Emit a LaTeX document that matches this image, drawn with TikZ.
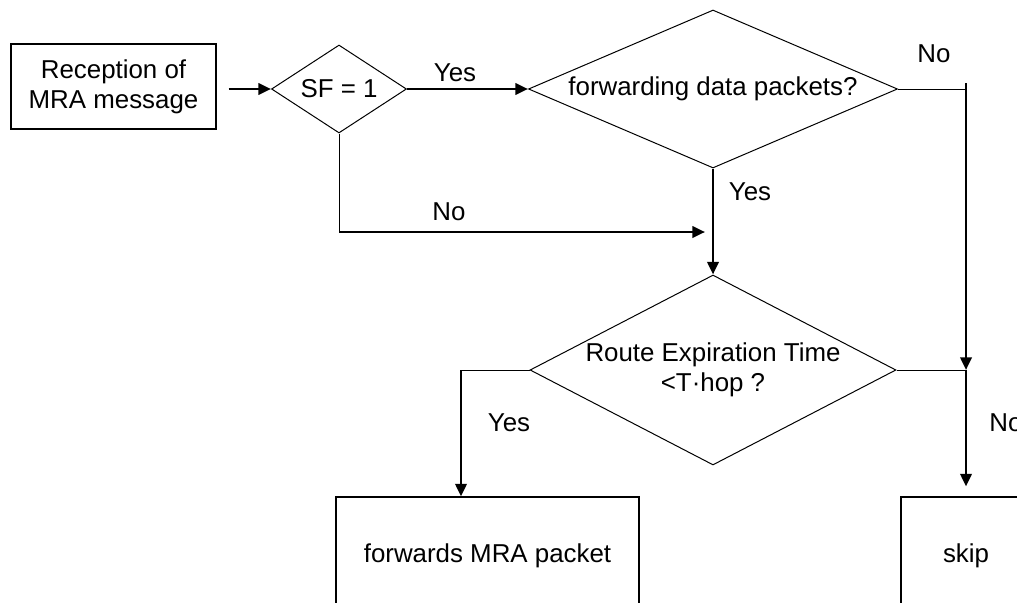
\documentclass[tikz,border=0pt]{standalone}
\usepackage{fontspec}
\setmainfont{Liberation Sans}
\usetikzlibrary{shapes.geometric, arrows.meta}

\begin{document}
\begin{tikzpicture}[
      x=0.75pt, y=-0.75pt, % one unit = one pixel of the sketch
      % The boxes and decisions of the chart:
      every node/.style={font=\fontsize{19.4}{22.5}\selectfont, inner sep=0pt},
      procbox/.style={draw, line width=0.8pt, align=center},
      decision/.style={draw, diamond, line width=0.75pt, align=center},
      answer/.style={draw=none, fill=none},
      thinedge/.style={draw, line width=0.75pt},
      flow/.style={draw, line width=2pt, -{Triangle[length=9.5pt, width=8.5pt]}},
  ]
  \useasboundingbox (0,0) rectangle (1017,603);
  \clip (0,0) rectangle (1017,603);

  %%%%%%%%%%%%%%%%%%%%%%%%%%%%%%%%%%%%%%%%%%%%%%%%%%%%%%%%
  % (1) Reception and first test SF = 1
  %%%%%%%%%%%%%%%%%%%%%%%%%%%%%%%%%%%%%%%%%%%%%%%%%%%%%%%%
  \node[procbox, minimum width=153.75pt, minimum height=63.75pt]
    (recv) at (113.5,86.5) {Reception of\\MRA message};
  \node[decision, aspect=1.53, minimum width=101.25pt, minimum height=66pt]
    (sf) at (339,89) {SF = 1};

  \draw[flow, shorten <=9pt] (recv.east |- sf.west) -- (sf.west);

  %%%%%%%%%%%%%%%%%%%%%%%%%%%%%%%%%%%%%%%%%%%%%%%%%%%%%%%%
  % (2) Is the node forwarding data packets?
  %%%%%%%%%%%%%%%%%%%%%%%%%%%%%%%%%%%%%%%%%%%%%%%%%%%%%%%%
  \node[decision, aspect=2.34, minimum width=276.75pt, minimum height=118.5pt]
    (fwd) at (713,89) {forwarding data packets?};

  \draw[flow] (sf.east) -- (fwd.west);
  \node[answer] (yesSF) at (455,73) {Yes};

  % SF = 1 fails: go round to the lower test
  \coordinate (sfTurn) at (339,232);
  \coordinate (merge)  at (705,232);
  \draw[thinedge] (sf.south) -- (sfTurn);
  \draw[flow] (sfTurn) -- (merge);
  \node[answer] (noSF) at (449,212) {No};

  %%%%%%%%%%%%%%%%%%%%%%%%%%%%%%%%%%%%%%%%%%%%%%%%%%%%%%%%
  % (3) Route Expiration Time test
  %%%%%%%%%%%%%%%%%%%%%%%%%%%%%%%%%%%%%%%%%%%%%%%%%%%%%%%%
  \node[decision, aspect=1.93, minimum width=274.5pt, minimum height=142.5pt]
    (route) at (713,370) {Route Expiration Time\\<T·hop ?};

  \draw[flow] (fwd.south) -- (route.north);
  \node[answer] (yesFwd) at (750,192) {Yes};

  % not forwarding: straight down the right side
  \coordinate (noCorner) at (966,89);
  \coordinate (noTop)    at (966,83);
  \coordinate (noJoin)   at (966,370);
  \draw[thinedge] (fwd.east) -- (noCorner);
  \draw[flow] (noTop) -- (noJoin);
  \node[answer] (noFwd) at (934,54) {No};

  %%%%%%%%%%%%%%%%%%%%%%%%%%%%%%%%%%%%%%%%%%%%%%%%%%%%%%%%
  % (4) Outcomes
  %%%%%%%%%%%%%%%%%%%%%%%%%%%%%%%%%%%%%%%%%%%%%%%%%%%%%%%%
  \node[procbox, minimum width=227.25pt, minimum height=88.5pt]
    (pkt) at (487.5,556) {forwards MRA packet};
  \node[procbox, minimum width=97.5pt, minimum height=88.5pt]
    (skip) at (966,556) {skip};

  \coordinate (yesCorner) at (461,370);
  \draw[thinedge] (route.west) -- (yesCorner);
  \draw[flow] (yesCorner) -- (yesCorner |- pkt.north);
  \node[answer] (yesRoute) at (509,423) {Yes};

  \draw[thinedge] (route.east) -- (noJoin);
  \draw[flow, shorten >=7.5pt] (noJoin) -- (skip.north);
  \node[answer] (noRoute) at (1006,423) {No};

\end{tikzpicture}
\end{document}
